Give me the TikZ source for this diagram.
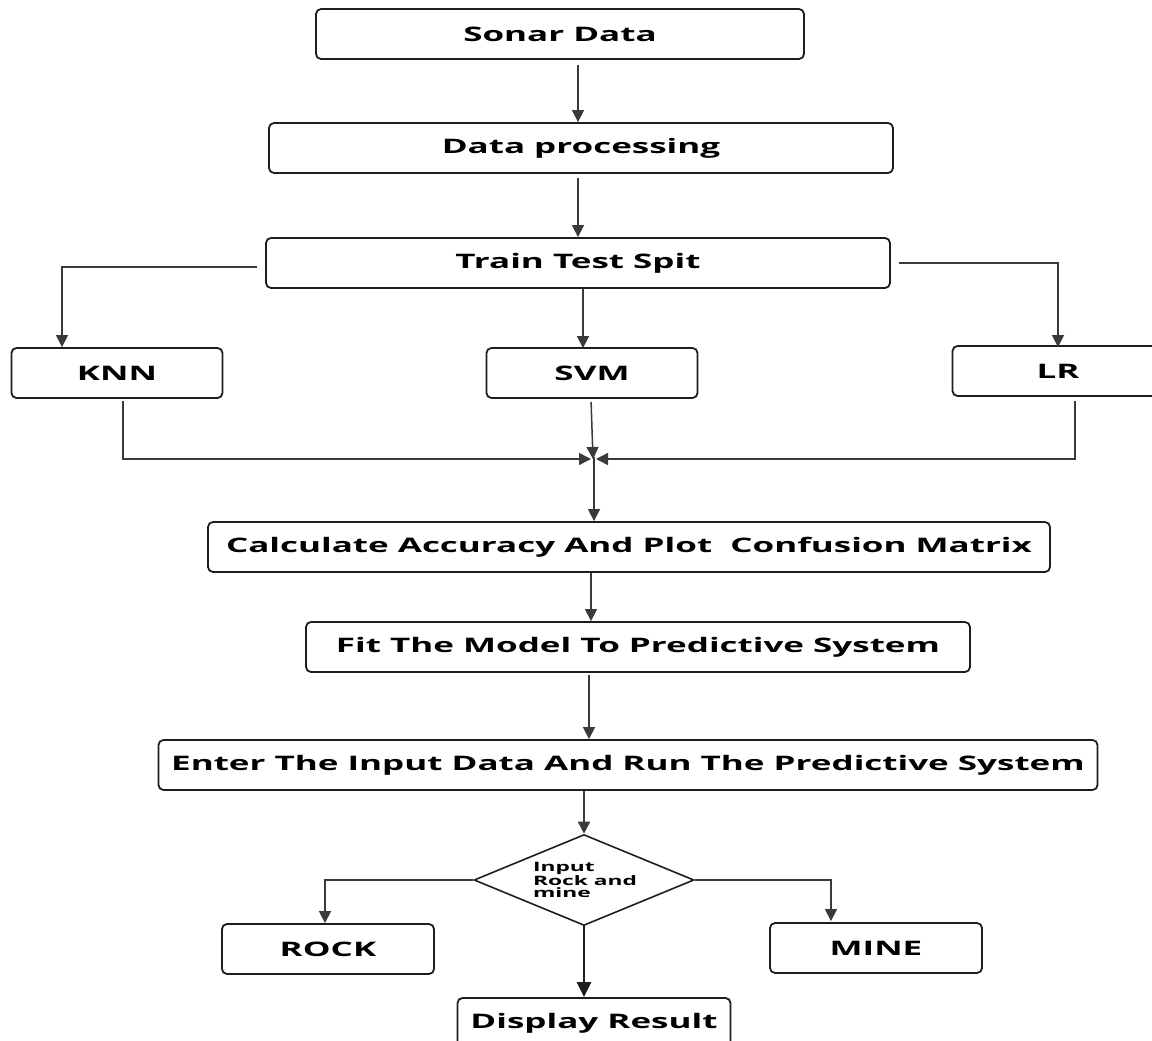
\documentclass[tikz,border=0pt]{standalone}
\usepackage{fontspec}
\setmainfont{Open Sans}[FakeStretch=1.75]
\usepackage{tikz}
\usetikzlibrary{positioning,arrows.meta,calc,shapes.geometric}

\definecolor{edge}{HTML}{1E1E1E}
\definecolor{wire}{HTML}{3A3A3A}

\begin{document}
\begin{tikzpicture}[
  x=1pt, y=-1pt,
  box/.style={draw=edge, line width=1.8pt, rounded corners=5pt, align=center,
              font={\fontsize{20}{22}\selectfont\bfseries},
              minimum height=50pt, inner sep=0pt},
  choice/.style={draw=edge, line width=1.6pt, diamond, aspect=2.42, inner sep=0pt,
                 minimum width=220pt, minimum height=91pt, align=left,
                 font={\fontsize{13}{12}\selectfont\bfseries}},
  arr/.style={-{Triangle[length=12pt,width=12pt]}, line width=1.5pt, draw=wire},
  bigarr/.style={-{Triangle[length=15pt,width=14pt]}, line width=2.4pt, draw=edge}
]
  \useasboundingbox (0,0) rectangle (1152,1041);

  % main column
  \node[box, minimum width=488pt] (sonar) at (560,34) {Sonar Data};
  \node[box, minimum width=624pt] (proc) at (581,148) {Data processing};
  \node[box, minimum width=624pt] (split) at (578,263) {Train Test Spit};

  % the three models
  \node[box, minimum width=211pt] (knn) at (117,373) {KNN};
  \node[box, minimum width=211pt] (svm) at (592,373) {SVM};
  \node[box, minimum width=211pt] (lr) at (1058,371) {LR};
  \coordinate (merge) at (593,459);

  \node[box, minimum width=842pt] (calc) at (629,547) {Calculate Accuracy And Plot\ \ Confusion Matrix};
  \node[box, minimum width=664pt] (fit) at (638,647) {Fit The Model To Predictive System};
  \node[box, minimum width=939pt] (enter) at (628,765) {Enter The Input Data And Run The Predictive System};

  % decision and outputs
  \node[choice] (dec) at (584,880) {\hspace*{2pt}Input\\\hspace*{2pt}Rock and\\\hspace*{2pt}mine};
  \node[box, minimum width=212pt] (rock) at (328,949) {ROCK};
  \node[box, minimum width=212pt] (mine) at (876,948) {MINE};
  \node[box, minimum width=273pt] (disp) at (594,1023) {Display Result};

  \draw[arr, shorten <=5pt] ([xshift=18pt]sonar.south) -- ([xshift=-3pt]proc.north);
  \draw[arr, shorten <=4pt] ([xshift=-3pt]proc.south) -- (split.north);
  \draw[arr] ([xshift=-8pt,yshift=-4pt]split.west) -| ([xshift=-55pt]knn.north);
  \draw[arr] ([xshift=8pt]split.east) -| ([yshift=-2pt]lr.north);
  \draw[arr] ([xshift=5pt]split.south) -- ([xshift=-9pt,yshift=-1pt]svm.north);

  \draw[arr, shorten <=2pt] ([xshift=6pt]knn.south) |- ([xshift=-2pt]merge);
  \draw[arr, shorten <=3pt] ([xshift=-1pt]svm.south) -- (merge);
  \draw[arr, shorten <=4pt] ([xshift=17pt]lr.south) |- ([xshift=3pt]merge);
  \draw[arr] ([xshift=1pt,yshift=2pt]merge) -- ([xshift=-35pt]calc.north);

  \draw[arr] ([xshift=-38pt]calc.south) -- ([xshift=-47pt]fit.north);
  \draw[arr, shorten <=2pt] ([xshift=-49pt]fit.south) -- ([xshift=-39pt]enter.north);
  \draw[arr] (enter.south -| dec.north) -- (dec.north);

  \draw[arr] (dec.west) -| ([xshift=-3pt]rock.north);
  \draw[arr] (dec.east) -| ([xshift=-45pt,yshift=1pt]mine.north);
  \draw[bigarr] (dec.south) -- ([xshift=-10pt]disp.north);
\end{tikzpicture}
\end{document}
